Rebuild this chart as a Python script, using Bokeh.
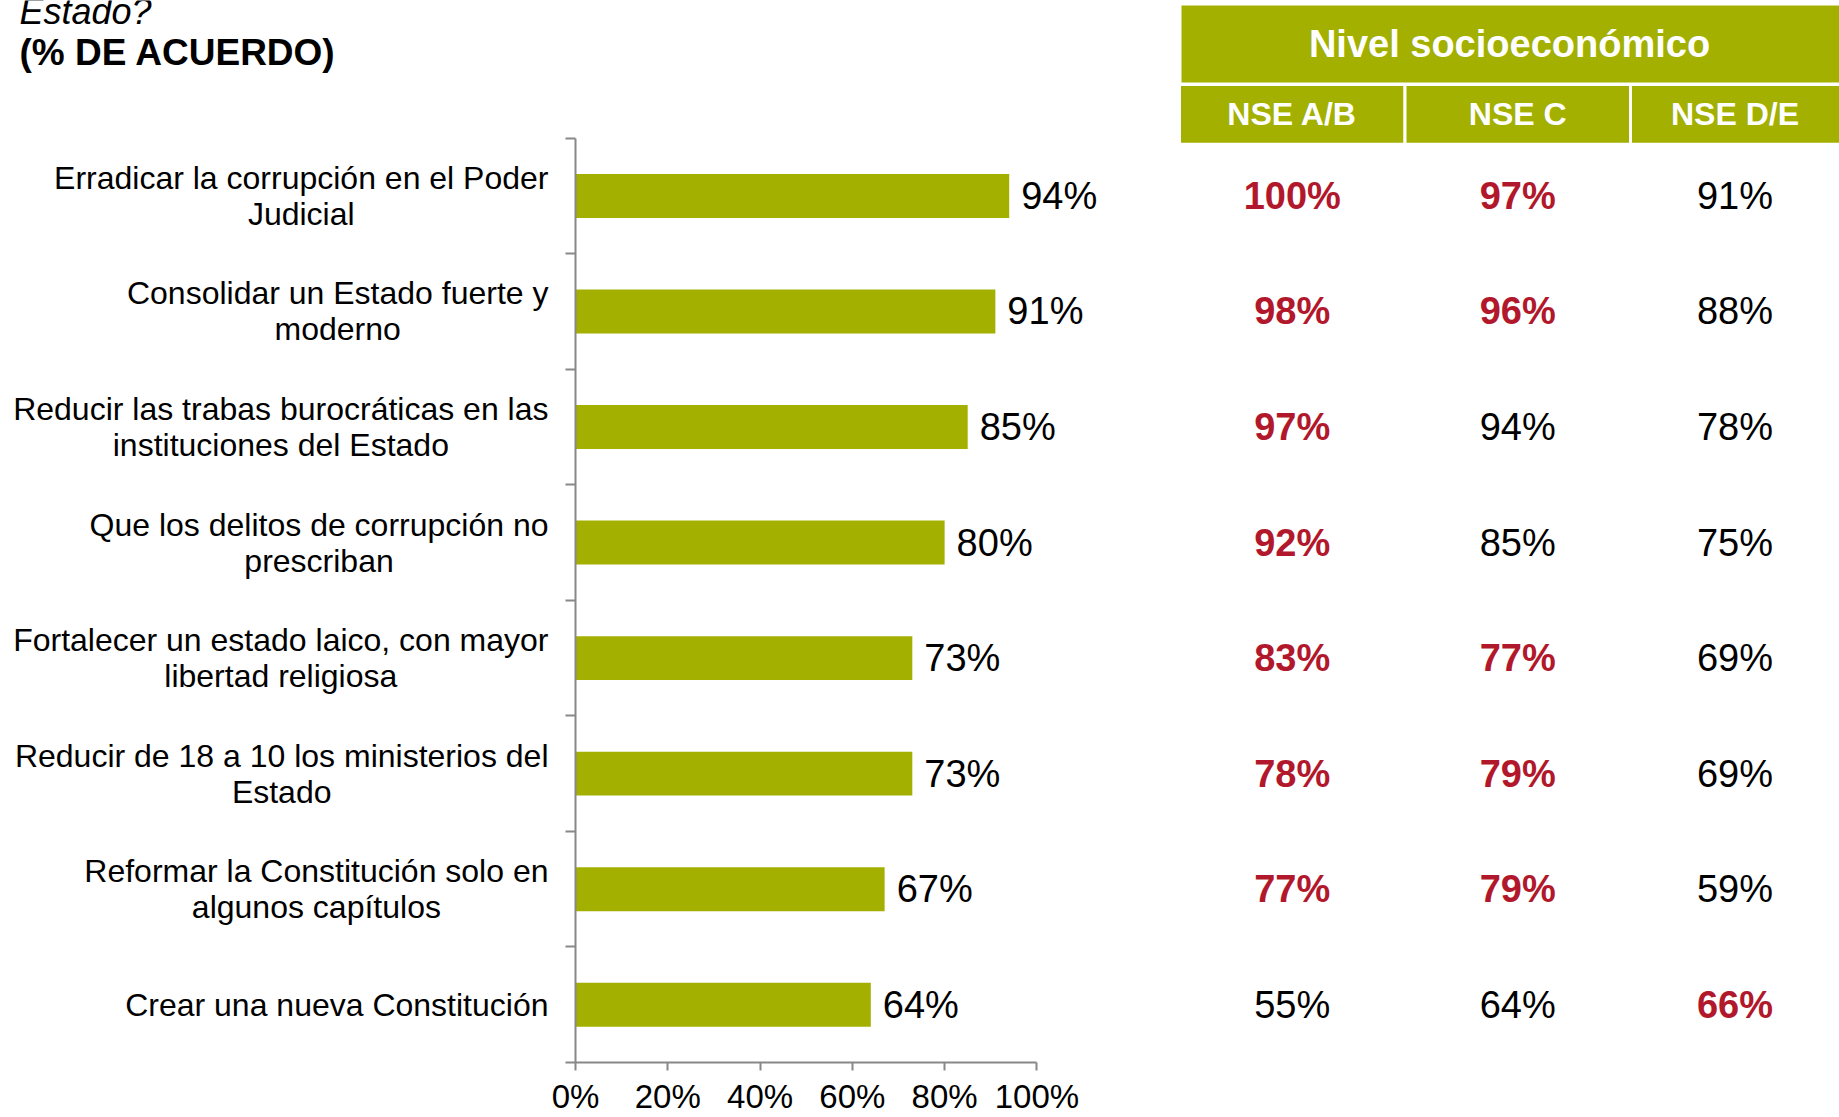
from bokeh.plotting import figure
from bokeh.layouts import row
from bokeh.models import Range1d, FixedTicker, PrintfTickFormatter
from bokeh.core.properties import value
from bokeh.embed import file_html
from bokeh.resources import INLINE

# ---------------- data ----------------
categories = [
    "Erradicar la corrupción en el Poder\nJudicial",
    "Consolidar un Estado fuerte y\nmoderno",
    "Reducir las trabas burocráticas en las\ninstituciones del Estado",
    "Que los delitos de corrupción no\nprescriban",
    "Fortalecer un estado laico, con mayor\nlibertad religiosa",
    "Reducir de 18 a 10 los ministerios del\nEstado",
    "Reformar la Constitución solo en\nalgunos capítulos",
    "Crear una nueva Constitución",
]
total = [94, 91, 85, 80, 73, 73, 67, 64]

groups = ["NSE A/B", "NSE C", "NSE D/E"]
nse_ab = [100, 98, 97, 92, 83, 78, 77, 55]
nse_c = [97, 96, 94, 85, 77, 79, 79, 64]
nse_de = [91, 88, 78, 75, 69, 69, 59, 66]
hl_ab = [1, 1, 1, 1, 1, 1, 1, 0]
hl_c = [1, 1, 0, 0, 1, 1, 1, 0]
hl_de = [0, 0, 0, 0, 0, 0, 0, 1]

x_ticks = [0, 20, 40, 60, 80, 100]
header_text = "Nivel socioeconómico"
title_top = "Estado?"
title_main = "(% DE ACUERDO)"

# ---------------- layout constants (page pixels) ----------------
W, H = 1839, 1117
LEFT_W = 549
FRAME_L, FRAME_R, FRAME_B = 575, 1839, 1063
PX_PER_PCT = 4.614
PX_PER_ROW = 115.65
COL_EDGES = [1179, 1404.5, 1630, 1839]
HEAD_TOP, HEAD_SPLIT, HEAD_BOTTOM = 3, 84, 144
LABEL_RIGHT = 548

FONT = "Liberation Sans"
OLIVE = "#A3B000"
RED = "#B2182B"
AXIS_GRAY = "#888888"


def sx(px):
    return (px - FRAME_L) / PX_PER_PCT


def sy(py):
    return (FRAME_B - py) / PX_PER_ROW


n = len(categories)
centers = [n - i - 0.5 for i in range(n)]
y_range = Range1d(0, sy(0))

# ---------------- left panel: titles and category labels ----------------
pl = figure(
    width=LEFT_W, height=H, x_range=Range1d(0, LEFT_W), y_range=y_range,
    min_border_left=0, min_border_right=0, min_border_top=0, min_border_bottom=H - FRAME_B,
    output_backend="svg", toolbar_location=None, tools="",
)
pl.axis.visible = False
pl.grid.visible = False
pl.outline_line_color = None

pl.text(x=[LABEL_RIGHT] * n, y=centers, text=categories, anchor="center_right",
        text_align="center", text_baseline="middle", text_color="black",
        text_font=value(FONT), text_font_size="32px", text_line_height=1.0)
pl.text(x=[19], y=[sy(11)], text=[title_top], text_align="left", text_baseline="alphabetic",
        text_color="black", text_font=value(FONT), text_font_size="36px",
        text_font_style=value("italic"))
pl.text(x=[19], y=[sy(52)], text=[title_main], text_align="left", text_baseline="alphabetic",
        text_color="black", text_font=value(FONT), text_font_size="37px",
        text_font_style=value("bold"))

# ---------------- right panel: bars and table ----------------
p = figure(
    width=W - LEFT_W, height=H,
    x_range=Range1d(0, sx(FRAME_R)), y_range=y_range,
    min_border_left=FRAME_L - LEFT_W, min_border_right=0,
    min_border_top=0, min_border_bottom=H - FRAME_B,
    output_backend="svg", toolbar_location=None, tools="",
)
p.xgrid.visible = False
p.ygrid.visible = False
p.outline_line_color = None

# bars
p.hbar(y=centers, right=total, left=0, height=0.38, fill_color=OLIVE, line_color=None)
p.text(x=total, y=centers, text=[f"{v}%" for v in total], x_offset=12,
       text_baseline="middle", text_align="left", text_color="black",
       text_font=value(FONT), text_font_size="38px")

# axes
xa = p.xaxis[0]
xa.ticker = FixedTicker(ticks=x_ticks, minor_ticks=[])
xa.formatter = PrintfTickFormatter(format="%d%%")
xa.bounds = (0, 100)
xa.axis_line_color = AXIS_GRAY
xa.axis_line_width = 2
xa.major_tick_line_color = AXIS_GRAY
xa.major_tick_line_width = 2
xa.major_tick_out = 8
xa.major_tick_in = 0
xa.minor_tick_line_color = None
xa.major_label_standoff = 7
xa.major_label_text_font = FONT
xa.major_label_text_font_size = "33px"
xa.major_label_text_color = "black"

ya = p.yaxis[0]
ya.ticker = FixedTicker(ticks=list(range(n + 1)), minor_ticks=[])
ya.bounds = (0, n)
ya.axis_line_color = AXIS_GRAY
ya.axis_line_width = 2
ya.major_tick_line_color = AXIS_GRAY
ya.major_tick_line_width = 2
ya.major_tick_out = 10
ya.major_tick_in = 0
ya.minor_tick_line_color = None
ya.major_label_standoff = 0
ya.major_label_overrides = {i: "" for i in range(n + 1)}

# table header
p.quad(left=sx(COL_EDGES[0]), right=sx(COL_EDGES[-1] + 10), top=sy(HEAD_TOP), bottom=sy(HEAD_SPLIT),
       fill_color=OLIVE, line_color="white", line_width=4)
p.quad(left=[sx(e) for e in COL_EDGES[:-1]], right=[sx(e) for e in COL_EDGES[1:-1]] + [sx(COL_EDGES[-1] + 10)],
       top=sy(HEAD_SPLIT), bottom=sy(HEAD_BOTTOM),
       fill_color=OLIVE, line_color="white", line_width=3)
col_centers = [sx((COL_EDGES[i] + COL_EDGES[i + 1]) / 2) for i in range(len(groups))]
p.text(x=[sx((COL_EDGES[0] + COL_EDGES[-1]) / 2)], y=[sy(44)], text=[header_text],
       text_align="center", text_baseline="middle", text_color="white",
       text_font=value(FONT), text_font_size="38px", text_font_style=value("bold"))
p.text(x=col_centers, y=[sy(114)] * len(groups), text=groups,
       text_align="center", text_baseline="middle", text_color="white",
       text_font=value(FONT), text_font_size="32px", text_font_style=value("bold"))

# table values
for gi, (vals, hls) in enumerate([(nse_ab, hl_ab), (nse_c, hl_c), (nse_de, hl_de)]):
    for flag, color, style in [(1, RED, "bold"), (0, "black", "normal")]:
        ys = [c for c, h in zip(centers, hls) if h == flag]
        ts = [f"{v}%" for v, h in zip(vals, hls) if h == flag]
        if not ys:
            continue
        p.text(x=[col_centers[gi]] * len(ys), y=ys, text=ts,
               text_align="center", text_baseline="middle", text_color=color,
               text_font=value(FONT), text_font_size="38px", text_font_style=value(style))

layout = row(pl, p)
open("out.html", "w").write(file_html(layout, INLINE))
